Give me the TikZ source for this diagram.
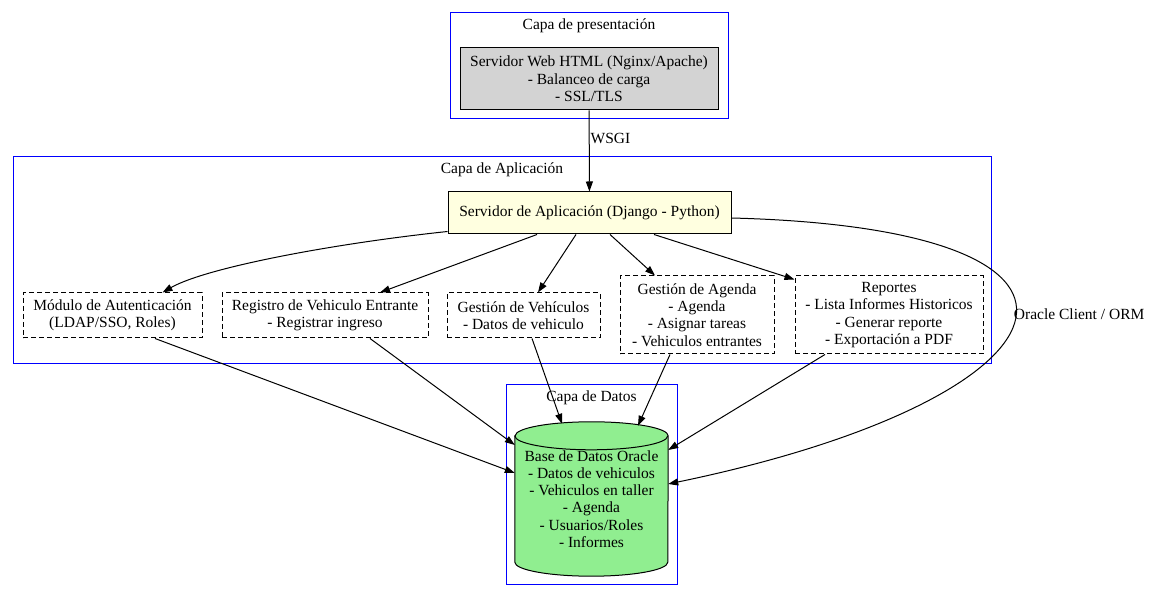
\documentclass[tikz,border=0pt]{standalone}
\usepackage{fontspec}
\setmainfont{Liberation Serif}
\usetikzlibrary{arrows.meta,backgrounds}
\definecolor{webgray}{HTML}{D3D3D3}
\definecolor{appyellow}{HTML}{FFFFE0}
\definecolor{dbgreen}{HTML}{90EE90}
\tikzset{
  capa/.style={rectangle,draw=blue,line width=1pt},
  capalabel/.style={below=3pt},
  servidor/.style={rectangle,draw=black,line width=1pt,align=center,inner sep=2pt},
  modulo/.style={rectangle,draw=black,line width=1pt,dash pattern=on 5pt off 3pt,align=center,inner sep=2pt},
  flecha/.style={-{Triangle[length=10pt,width=7pt]},line width=1pt},
}
\begin{document}
\begin{tikzpicture}[x=1pt,y=1pt,font=\fontsize{15.5}{17.3}\selectfont]
      \useasboundingbox (0,0) rectangle (1152,599);

      % capas
      \node[capa,minimum width=278pt,minimum height=106pt] (pres) at (589,533){};
      \node[capalabel] at (pres.north){Capa de presentación};
      \node[capa,minimum width=978pt,minimum height=207pt] (apl) at (502,338.5){};
      \node[capalabel] at (apl.north){Capa de Aplicación};
      \node[capa,minimum width=171pt,minimum height=200pt] (datos) at (591.5,114){};
      \node[capalabel] at (datos.north){Capa de Datos};

      % servidores
      \node[servidor,fill=webgray,minimum width=258pt,minimum height=62pt] (web) at (589,520){Servidor Web HTML (Nginx/Apache)\\- Balanceo de carga\\- SSL/TLS};
      \node[servidor,fill=appyellow,minimum width=283pt,minimum height=42pt] (app) at (589.5,386){Servidor de Aplicación (Django - Python)};

      % modulos
      \node[modulo,minimum width=179pt,minimum height=45pt] (auth) at (112.5,283.5){Módulo de Autenticación\\(LDAP/SSO, Roles)};
      \node[modulo,minimum width=206pt,minimum height=45pt] (registro) at (325,283.5){Registro de Vehiculo Entrante\\- Registrar ingreso};
      \node[modulo,minimum width=153pt,minimum height=45pt] (vehiculos) at (523.5,283.5){Gestión de Vehículos\\- Datos de vehiculo};
      \node[modulo,minimum width=154pt,minimum height=78pt] (agenda) at (697,284){Gestión de Agenda\\- Agenda\\- Asignar tareas\\- Vehiculos entrantes};
      \node[modulo,minimum width=188pt,minimum height=78pt] (reportes) at (889,284){Reportes\\- Lista Informes Historicos\\- Generar reporte\\- Exportación a PDF};

      % base de datos
      \node[align=center,minimum width=153pt,minimum height=154pt,inner sep=0pt] (db) at (591.5,100){Base de Datos Oracle\\- Datos de vehiculos\\- Vehiculos en taller\\- Agenda\\- Usuarios/Roles\\- Informes};
      \begin{scope}[on background layer]
        \draw[fill=dbgreen,line width=1pt] ([yshift=-14pt]db.north west) -- ([yshift=14pt]db.south west)
          arc[start angle=180,end angle=360,x radius=76.5pt,y radius=14pt] -- ([yshift=-14pt]db.north east)
          arc[start angle=0,end angle=180,x radius=76.5pt,y radius=14pt] -- cycle;
        \draw[line width=1pt] ([yshift=-14pt]db.north west) arc[start angle=180,end angle=360,x radius=76.5pt,y radius=14pt];
      \end{scope}

      % conexiones
      \draw[flecha] (web) -- node[pos=0.35,right,inner sep=1pt]{WSGI} (app);
      \draw[flecha] ([yshift=3pt]app.south west) .. controls (330,355) and (205,331) .. ([xshift=50pt]auth.north);
      \draw[flecha] ([xshift=-52.5pt]app.south) -- ([xshift=55pt]registro.north);
      \draw[flecha] ([xshift=-13.5pt]app.south) -- ([xshift=14.5pt]vehiculos.north);
      \draw[flecha] ([xshift=20.5pt]app.south) -- ([xshift=-42pt]agenda.north);
      \draw[flecha] ([xshift=64.5pt]app.south) -- ([yshift=-4pt]reportes.north west);
      \draw[flecha] ([yshift=-5pt]app.east) .. controls (1157,370) and (1079,200) .. node[pos=0.5,right,inner sep=0pt,yshift=9pt]{Oracle Client / ORM} ([yshift=15pt]db.east);

      \draw[flecha] ([xshift=42.5pt]auth.south) -- ([yshift=26pt]db.west);
      \draw[flecha] ([xshift=45pt]registro.south) -- ([yshift=54pt]db.west);
      \draw[flecha] ([xshift=8.5pt]vehiculos.south) -- ([xshift=-29.5pt,yshift=-2pt]db.north);
      \draw[flecha] ([xshift=-27pt]agenda.south) -- ([xshift=46.5pt,yshift=-4pt]db.north);
      \draw[flecha] ([xshift=-64pt]reportes.south) -- ([yshift=49pt]db.east);

    \end{tikzpicture}
\end{document}
